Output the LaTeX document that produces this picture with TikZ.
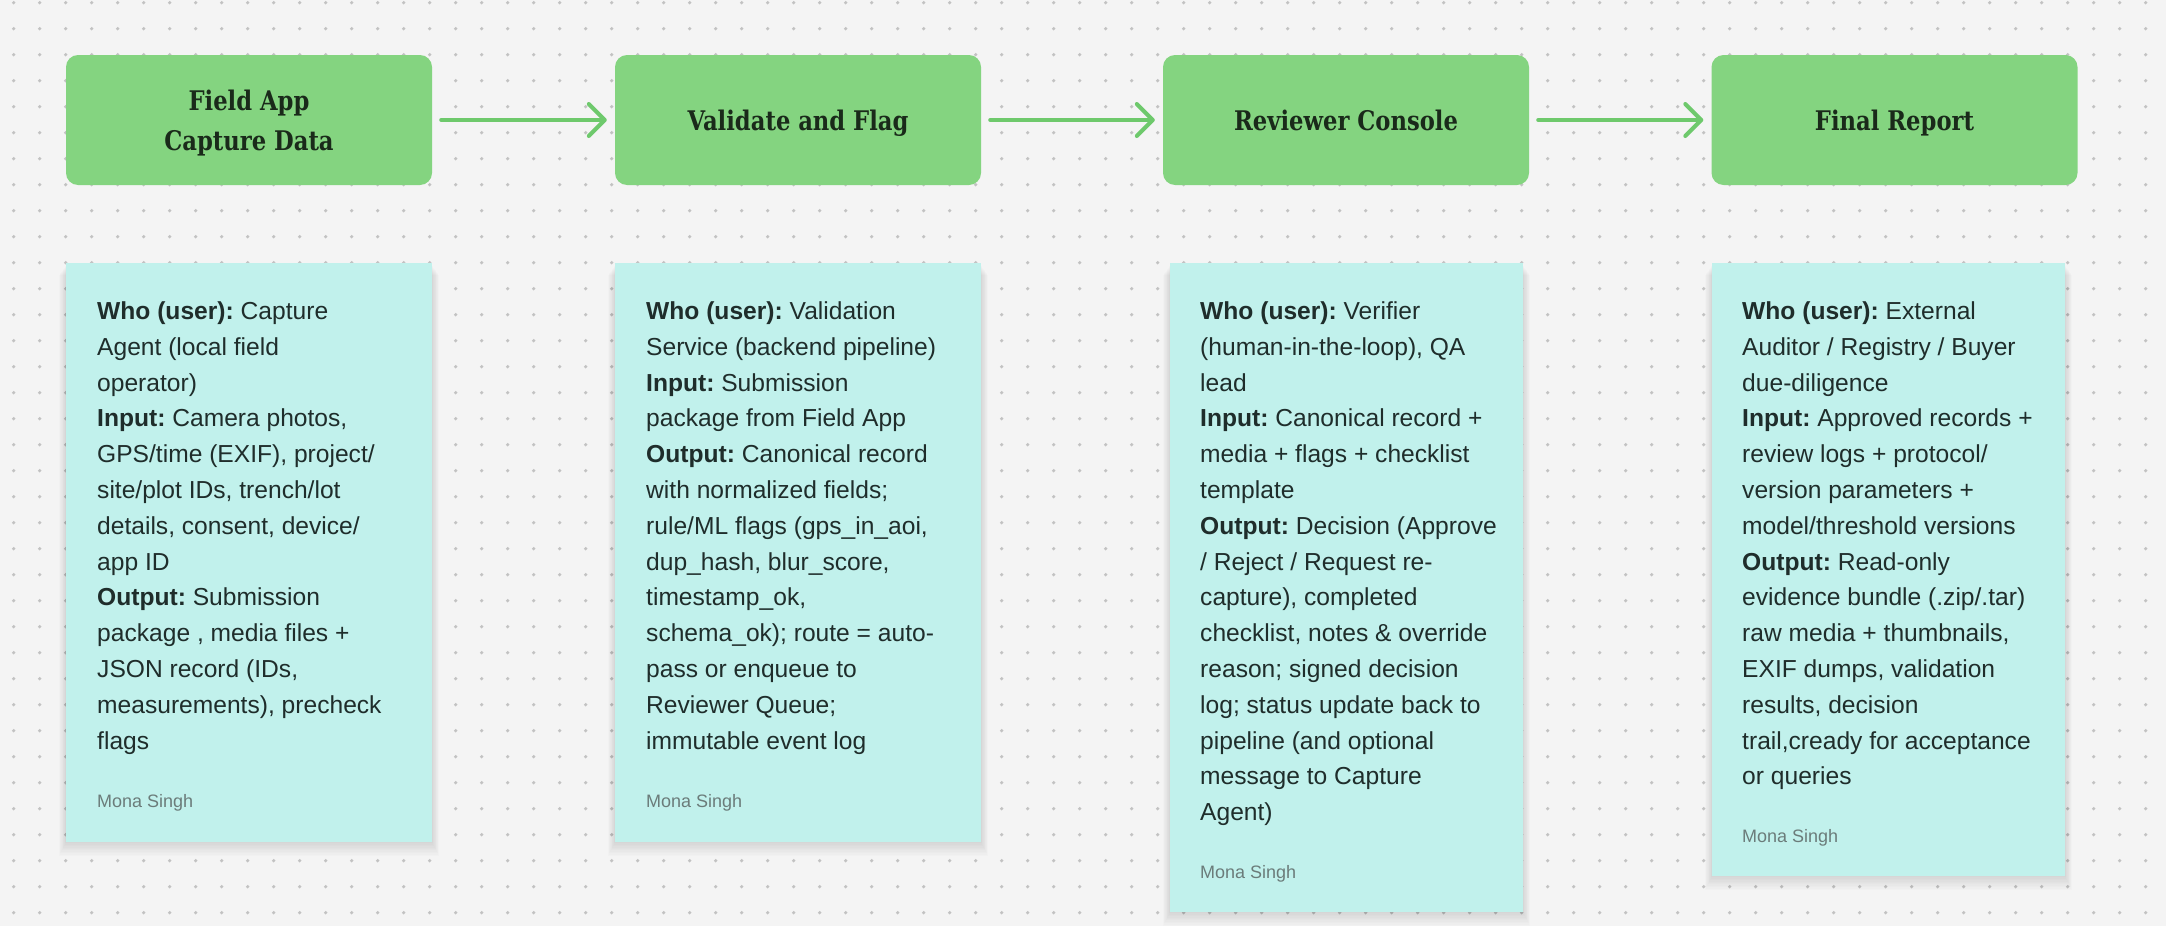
\documentclass[tikz,border=0pt]{standalone}
\usepackage{fontspec}
\usetikzlibrary{arrows.meta}
\newfontfamily\bodyfont{Liberation Sans}
\newfontfamily\titlefont{DejaVu Serif}[FakeStretch=0.84]
\frenchspacing
\definecolor{bgc}{HTML}{F4F4F4}
\definecolor{dotc}{HTML}{C2C2C2}
\definecolor{boxc}{RGB}{132,212,128}
\definecolor{arrc}{RGB}{110,201,108}
\definecolor{notec}{RGB}{193,241,236}
\definecolor{txtc}{HTML}{1F2D2B}
\definecolor{ttlc}{HTML}{1A2A1A}
\definecolor{authc}{HTML}{6B7C7A}
\newcommand\notelines[1]{\vtop{\hsize=360pt\parindent=0pt\parskip=0pt\baselineskip=35.8pt\lineskiplimit=-50pt\rightskip=0pt plus 1fil\relax #1}}
\newcommand\twoline[2]{\vtop{\baselineskip=39.3pt\lineskiplimit=-50pt\hbox to 0pt{\hss #1\hss}\hbox to 0pt{\hss #2\hss}}}
\newcommand\softshadow[4]{\foreach \k in {1,...,10}{\fill[black,opacity=0.011] (#1-0.7*\k,#2+2+\k) rectangle (#3+0.7*\k,#4+1.4*\k);}}
\tikzset{
  stagebox/.style={draw=none, fill=boxc, rounded corners=12pt, minimum width=366pt, minimum height=130pt, inner sep=0pt},
  stagetitle/.style={inner sep=0pt, text=ttlc, font={\titlefont\fontsize{27}{39.3}\selectfont\bfseries}},
  notebox/.style={draw=none, fill=notec, inner sep=0pt, anchor=north west},
  notetext/.style={inner sep=0pt, anchor=base west, text=txtc, font={\bodyfont\fontsize{24.6}{35.8}\selectfont\frenchspacing}},
  author/.style={inner sep=0pt, anchor=base west, text=authc, font={\bodyfont\fontsize{18}{20}\selectfont}},
  flow/.style={draw=arrc, line width=4pt, line cap=round, line join=round, shorten <=9pt, shorten >=8pt,
     -{Straight Barb[length=16pt, width=32pt, round]}}
}
\begin{document}
\begin{tikzpicture}[x=1pt,y=-1pt]
\useasboundingbox (0,0) rectangle (2166,926);
\fill[bgc] (0,0) rectangle (2166,926);
\foreach \i in {0,...,83}{
  \foreach \j in {0,...,35}{
    \fill[dotc] (13.7+26*\i, 2.7+26*\j) circle (1.8pt);
  }
}
% stage boxes
\node[stagebox] (b1) at (249,120) {};
\node[stagebox] (b2) at (798,120) {};
\node[stagebox] (b3) at (1346,120) {};
\node[stagebox] (b4) at (1894.5,120) {};
\node[stagetitle, anchor=base] (t1) at (249,110.7) {\twoline{Field App}{Capture Data}};
\node[stagetitle, anchor=base] (t2) at (798,130.5) {Validate and Flag};
\node[stagetitle, anchor=base] (t3) at (1346,130.5) {Reviewer Console};
\node[stagetitle, anchor=base] (t4) at (1894.5,130.5) {Final Report};
% arrows
\draw[flow] (b1) -- (b2);
\draw[flow] (b2) -- (b3);
\draw[flow] (b3) -- (b4);
% note shadows
\softshadow{66}{263}{432}{842}
\softshadow{615}{263}{981}{842}
\softshadow{1170}{263}{1523}{912}
\softshadow{1712}{263}{2065}{876}
% notes
\node[notebox, minimum width=366pt, minimum height=579pt] (n1) at (66,263) {};
\node[notebox, minimum width=366pt, minimum height=579pt] (n2) at (615,263) {};
\node[notebox, minimum width=353pt, minimum height=649pt] (n3) at (1170,263) {};
\node[notebox, minimum width=353pt, minimum height=613pt] (n4) at (1712,263) {};
\node[notetext] (x1) at (97,319.5) {\notelines{%
\textbf{Who (user):} Capture\par
Agent (local field\par
operator)\par
\textbf{Input:} Camera photos,\par
GPS/time (EXIF), project/\par
site/plot IDs, trench/lot\par
details, consent, device/\par
app ID\par
\textbf{Output:} Submission\par
package , media files +\par
JSON record (IDs,\par
measurements), precheck\par
flags}};
\node[notetext] (x2) at (646,319.5) {\notelines{%
\textbf{Who (user):} Validation\par
Service (backend pipeline)\par
\textbf{Input:} Submission\par
package from Field App\par
\textbf{Output:} Canonical record\par
with normalized fields;\par
rule/ML flags (gps\_in\_aoi,\par
dup\_hash, blur\_score,\par
timestamp\_ok,\par
schema\_ok); route = auto-\par
pass or enqueue to\par
Reviewer Queue;\par
immutable event log}};
\node[notetext] (x3) at (1200,319.5) {\notelines{%
\textbf{Who (user):} Verifier\par
(human-in-the-loop), QA\par
lead\par
\textbf{Input:} Canonical record +\par
media + flags + checklist\par
template\par
\textbf{Output:} Decision (Approve\par
/ Reject / Request re-\par
capture), completed\par
checklist, notes \& override\par
reason; signed decision\par
log; status update back to\par
pipeline (and optional\par
message to Capture\par
Agent)}};
\node[notetext] (x4) at (1742,319.5) {\notelines{%
\textbf{Who (user):} External\par
Auditor / Registry / Buyer\par
due-diligence\par
\textbf{Input:} Approved records +\par
review logs + protocol/\par
version parameters +\par
model/threshold versions\par
\textbf{Output:} Read-only\par
evidence bundle (.zip/.tar)\par
raw media + thumbnails,\par
EXIF dumps, validation\par
results, decision\par
trail,cready for acceptance\par
or queries}};
\node[author] (a1) at (97,807) {Mona Singh};
\node[author] (a2) at (646,807) {Mona Singh};
\node[author] (a3) at (1200,878) {Mona Singh};
\node[author] (a4) at (1742,842) {Mona Singh};
\end{tikzpicture}
\end{document}
